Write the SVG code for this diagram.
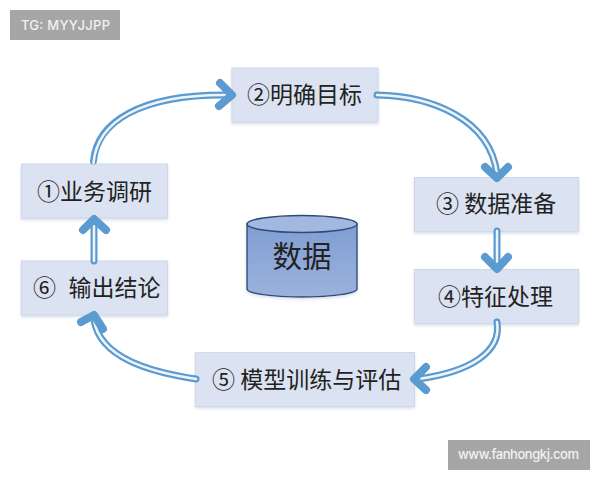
<svg xmlns="http://www.w3.org/2000/svg" width="600" height="480" viewBox="0 0 600 480">
<style>
.box{fill:#dbe2f1;stroke:#d2d8e6;stroke-width:1;filter:url(#sh)}
.t{font-family:"Noto Sans CJK SC","Liberation Sans",sans-serif;font-size:23px;fill:#222}
.o{fill:none;stroke:#5b9bd0;stroke-width:7;stroke-linecap:round}
.i{fill:none;stroke:#eef4fa;stroke-width:2.500;stroke-linecap:round}
.h{fill:none;stroke:#5b9bd0;stroke-width:8;stroke-linecap:round;stroke-linejoin:round}
.wm{fill:#a6a6a6}
.wt{font-family:Inter,"Liberation Sans",sans-serif;font-size:13px;font-weight:500;fill:#f2f2f2}
</style>
<defs>
<filter id="sh" x="-5%" y="-10%" width="110%" height="125%"><feDropShadow dx="0" dy="1.5" stdDeviation="1.5" flood-color="#b8c4da" flood-opacity="0.6"/></filter>
<linearGradient id="cy" x1="0" y1="0" x2="0" y2="1"><stop offset="0" stop-color="#809ed3"/><stop offset="1" stop-color="#9bb2dd"/></linearGradient>
</defs>
<rect width="600" height="480" fill="#fff"/>
<g id="node1"><rect class="box" x="21.500" y="164" width="146" height="54"/><text class="t" x="37" y="200">①业务调研</text></g>
<g id="node2"><rect class="box" x="232" y="68" width="146" height="54"/><text class="t" x="247" y="103">②明确目标</text></g>
<g id="node3"><rect class="box" x="414.500" y="177.500" width="164" height="54"/><text class="t" x="436" y="212">③ 数据准备</text></g>
<g id="node4"><rect class="box" x="414.500" y="269.500" width="164" height="54"/><text class="t" x="438" y="305">④特征处理</text></g>
<g id="node5"><rect class="box" x="195.500" y="352.500" width="219" height="54"/><text class="t" x="212" y="388">⑤ 模型训练与评估</text></g>
<g id="node6"><rect class="box" x="21.500" y="261" width="146" height="54"/><text class="t" x="33" y="296">⑥<tspan x="68.500">输出结论</tspan></text></g>
<g id="data">
<path d="M247,224V289A55,8 0 0 0 357,289V224Z" fill="url(#cy)" stroke="#2f4a75" stroke-width="1.400" filter="url(#sh)"/>
<ellipse cx="302" cy="224" rx="55" ry="8.500" fill="#a3b8e0" stroke="#2f4a75" stroke-width="1.400"/>
<text x="302" y="267" text-anchor="middle" font-family="'Noto Sans CJK SC',sans-serif" font-size="29.500" fill="#222">数据</text>
</g>
<g id="connectors">
<path class="o" d="M93.500,161C97,122 140,94 228,95"/><path class="i" d="M93.500,163C97,122 140,94 228,95"/><path class="h" d="M220,83L232,95L219,106"/>
<path class="o" d="M377,95C430,96 490,118 497,174"/><path class="i" d="M377,95C430,96 490,118 497,174"/><path class="h" d="M485,167L497,178L508,167"/>
<path class="o" d="M497,231V266"/><path class="i" d="M497,231V262"/><path class="h" d="M485,257L497,269L508,257"/>
<path class="o" d="M497,322C502,352 470,372 418,379"/><path class="i" d="M497,322C502,352 470,372 418,379"/><path class="h" d="M426,367L414,379L426,390"/>
<path class="o" d="M196,379C150,372 100,358 94,320"/><path class="i" d="M196,379C150,372 100,358 94,320"/><path class="h" d="M81,322L94,315L103,329"/>
<path class="o" d="M94,261V223"/><path class="i" d="M94,261V226"/><path class="h" d="M83,230L94,219L106,230"/>
</g>
<g id="wm1"><rect class="wm" x="10" y="10" width="110" height="30"/><text class="wt" x="21" y="30" textLength="89" lengthAdjust="spacing">TG: MYYJJPP</text></g>
<g id="wm2"><rect class="wm" x="448" y="440" width="142" height="30"/><text class="wt" x="458" y="459" textLength="121" lengthAdjust="spacing">www.fanhongkj.com</text></g>
</svg>
